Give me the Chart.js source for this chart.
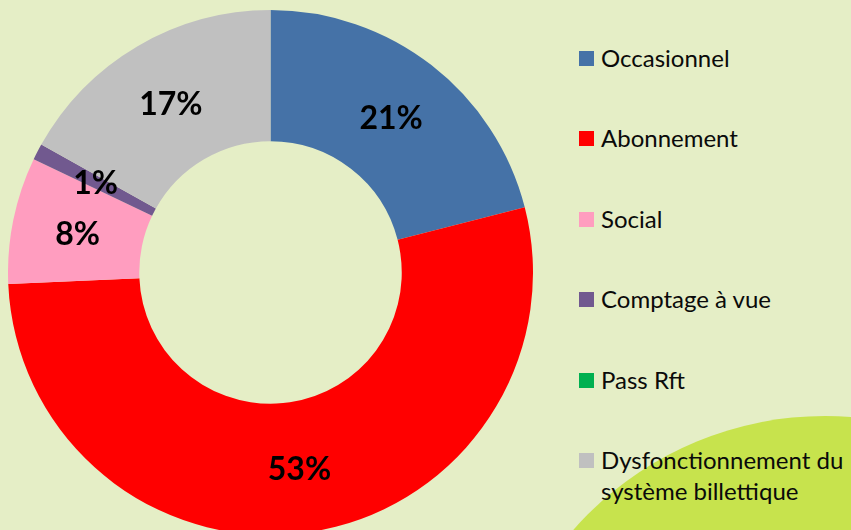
<!DOCTYPE html>
<html>
<head>
<meta charset="utf-8">
<script src="https://cdn.jsdelivr.net/npm/chart.js@4/dist/chart.umd.min.js"></script>
<style>
  html, body { margin: 0; padding: 0; }
  body {
    width: 851px; height: 530px; overflow: hidden; position: relative;
    background: #e5eec6; font-family: Lato, "Open Sans", sans-serif;
  }
  #blob {
    position: absolute; left: 490px; top: 416px; width: 670px; height: 670px;
    border-radius: 50%; background: #c7e34d;
  }
  #wrap { position: absolute; left: 8px; top: 10px; width: 525px; height: 525px; }
  .item { position: absolute; left: 579px; font-size: 24px; line-height: 31px; color: #0a0a0a; }
  .item span.box { position: absolute; left: 0; top: 9px; width: 15px; height: 15px; }
  .item div.txt { margin-left: 22px; white-space: nowrap; }
</style>
</head>
<body>
<div id="blob"></div>
<div id="wrap"><canvas id="donut"></canvas></div>
<div id="legend"></div>
<script>
// Données du graphique (parts en %)
const categories = ['Occasionnel', 'Abonnement', 'Social', 'Comptage à vue', 'Pass Rft',
                    ['Dysfonctionnement du', 'système billettique']];
const shares = [21.0, 53.3, 7.8, 1.0, 0, 16.9];
const sliceColors = ['#4572a7', '#ff0000', '#ff9dbf', '#71598f', '#00b050', '#c0c0c0'];

// Légende à droite
const legend = document.getElementById('legend');
categories.forEach((cat, i) => {
    const item = document.createElement('div');
    item.className = 'item';
    item.style.top = (42 + i * 80.4) + 'px';
    const box = document.createElement('span');
    box.className = 'box';
    box.style.background = sliceColors[i];
    const txt = document.createElement('div');
    txt.className = 'txt';
    txt.innerHTML = Array.isArray(cat) ? cat.join('<br>') : cat;
    item.appendChild(box);
    item.appendChild(txt);
    legend.appendChild(item);
});

// Étiquettes de pourcentage au milieu de chaque part
const pctLabels = {
    id: 'pctLabels',
    afterDatasetsDraw(chart) {
        const ctx = chart.ctx;
        const meta = chart.getDatasetMeta(0);
        ctx.save();
        ctx.font = 'bold 32px Lato, "Open Sans", sans-serif';
        ctx.fillStyle = '#000';
        ctx.textAlign = 'center';
        ctx.textBaseline = 'middle';
        meta.data.forEach((arc, i) => {
            const v = shares[i];
            if (!v) return;
            const p = arc.tooltipPosition();
            ctx.fillText(Math.round(v) + '%', p.x, p.y + 2);
        });
        ctx.restore();
    }
};

new Chart(document.getElementById('donut'), {
    type: 'doughnut',
    plugins: [pctLabels],
    data: {
        labels: categories.map(c => Array.isArray(c) ? c.join(' ') : c),
        datasets: [{
            data: shares,
            backgroundColor: sliceColors,
            borderWidth: 0
        }]
    },
    options: {
        responsive: true,
        maintainAspectRatio: false,
        animation: false,
        cutout: '50%',
        layout: { padding: 0 },
        plugins: {
            legend: { display: false },
            tooltip: { enabled: false }
        }
    }
});
</script>
</body>
</html>
